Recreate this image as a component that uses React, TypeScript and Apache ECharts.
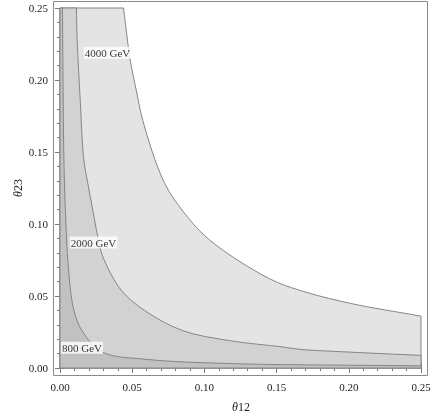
import React, { useEffect, useRef } from "react";
import * as echarts from "echarts";

// Contour curves: [theta12, theta23]
const contour4000: [number, number][] = [
  [0.044, 0.25], [0.0486, 0.214], [0.0528, 0.193], [0.0573, 0.172], [0.0712, 0.131],
  [0.0828, 0.112], [0.1035, 0.089], [0.1451, 0.062], [0.1659, 0.054], [0.2005, 0.045],
  [0.25, 0.036],
];
const contour2000: [number, number][] = [
  [0.0114, 0.25], [0.0119, 0.228], [0.014, 0.186], [0.0165, 0.1445], [0.0193, 0.128],
  [0.0227, 0.1097], [0.0262, 0.091], [0.0294, 0.078], [0.0424, 0.054], [0.0585, 0.04],
  [0.0848, 0.026], [0.1174, 0.019], [0.1543, 0.0146], [0.1659, 0.013], [0.2074, 0.0107],
  [0.25, 0.0088],
];
const contour800: [number, number][] = [
  [0.0017, 0.25], [0.0028, 0.14], [0.0043, 0.0956], [0.0054, 0.0749], [0.0096, 0.0401],
  [0.0158, 0.025], [0.0296, 0.011], [0.06, 0.006], [0.1174, 0.0031], [0.25, 0.0015],
];
const contourNames = ["4000 GeV", "2000 GeV", "800 GeV"];
const labelAnchors: [number, number][] = [
  [0.0329, 0.219], [0.0232, 0.0871], [0.0152, 0.0141],
];
const axisMin = 0;
const axisMax = 0.25;
const tickStep = 0.05;

const FONT = "'Liberation Serif', 'DejaVu Serif', serif";
const TICK_COLOR = "#7a7a7a";

// Region below a contour: straight frame edges + smooth centripetal Catmull-Rom contour, in pixel space
function regionPath(curve: [number, number][], coord: (p: number[]) => number[]) {
  const f = (n: number) => n.toFixed(2);
  const p = curve.map((c) => coord(c));
  const n = p.length;
  const pts = [
    [2 * p[0][0] - p[1][0], 2 * p[0][1] - p[1][1]],
    ...p,
    [2 * p[n - 1][0] - p[n - 2][0], 2 * p[n - 1][1] - p[n - 2][1]],
  ];
  const dist = (u: number[], v: number[]) => Math.pow(Math.hypot(u[0] - v[0], u[1] - v[1]), 0.5);
  const a0 = coord([axisMin, axisMin]);
  const b0 = coord([axisMin, axisMax]);
  const e0 = coord([axisMax, axisMin]);
  let d = `M${f(a0[0])},${f(a0[1])}L${f(b0[0])},${f(b0[1])}L${f(p[0][0])},${f(p[0][1])}`;
  for (let i = 1; i < pts.length - 2; i++) {
    const p0 = pts[i - 1], p1 = pts[i], p2 = pts[i + 1], p3 = pts[i + 2];
    const a = dist(p0, p1) || 1e-6, b = dist(p1, p2) || 1e-6, c = dist(p2, p3) || 1e-6;
    const cp1 = [0, 1].map(
      (k) => (a * a * p2[k] - b * b * p0[k] + (2 * a * a + 3 * a * b + b * b) * p1[k]) / (3 * a * (a + b))
    );
    const cp2 = [0, 1].map(
      (k) => (c * c * p1[k] - b * b * p3[k] + (2 * c * c + 3 * c * b + b * b) * p2[k]) / (3 * c * (c + b))
    );
    d += `C${f(cp1[0])},${f(cp1[1])},${f(cp2[0])},${f(cp2[1])},${f(p2[0])},${f(p2[1])}`;
  }
  d += `L${f(e0[0])},${f(e0[1])}Z`;
  return d;
}

export default function App() {
  const ref = useRef<HTMLDivElement>(null);
  useEffect(() => {
    if (!ref.current) return;
    const chart = echarts.init(ref.current, undefined, { renderer: "svg" });
    const tickCommon = {
      axisLine: { show: false },
      axisTick: { inside: true, length: 5, lineStyle: { color: TICK_COLOR } },
      minorTick: { show: true, splitNumber: 5, length: 3, lineStyle: { color: TICK_COLOR } },
      splitLine: { show: false },
      minorSplitLine: { show: false },
    };
    const labelStyle = {
      formatter: (v: number) => v.toFixed(2),
      margin: 5,
      color: "#222",
      fontFamily: FONT,
      fontSize: 11,
    };
    const fills = ["#e4e4e4", "#d2d2d2", "#c1c1c1"];
    const curves = [contour4000, contour2000, contour800];
    chart.setOption({
      animation: false,
      grid: { left: 60, right: 15, top: 8, bottom: 49 },
      xAxis: [
        { type: "value", min: axisMin, max: axisMax, interval: tickStep, position: "bottom", offset: 8, ...tickCommon, axisLabel: labelStyle },
        { type: "value", min: axisMin, max: axisMax, interval: tickStep, position: "top", offset: 7, ...tickCommon, axisLabel: { show: false } },
      ],
      yAxis: [
        { type: "value", min: axisMin, max: axisMax, interval: tickStep, position: "left", offset: 7, ...tickCommon, axisLabel: labelStyle },
        { type: "value", min: axisMin, max: axisMax, interval: tickStep, position: "right", offset: 7, ...tickCommon, axisLabel: { show: false } },
      ],
      series: [
        ...curves.map((c, i) => ({
          type: "custom",
          xAxisIndex: 0,
          yAxisIndex: 0,
          silent: true,
          z: 2 + i,
          clip: false,
          data: [c[0]],
          renderItem: (_params: any, api: any) => ({
            type: "path",
            shape: { pathData: regionPath(c, (pt) => api.coord(pt)) },
            style: { fill: fills[i], stroke: "#858585", lineWidth: 1 },
          }),
        })),
        {
          type: "scatter",
          xAxisIndex: 0,
          yAxisIndex: 0,
          z: 10,
          symbolSize: 1,
          itemStyle: { color: "transparent" },
          data: contourNames.map((n, i) => ({ name: n, value: labelAnchors[i] })),
          label: {
            show: true,
            position: "inside",
            formatter: "{b}",
            backgroundColor: "#ffffff",
            padding: [1, 1, 0, 1],
            color: "#000",
            fontFamily: FONT,
            fontSize: 11,
          },
        },
      ],
      graphic: [
        {
          type: "rect",
          shape: { x: 53.5, y: 1.5, width: 374, height: 374 },
          style: { fill: "none", stroke: "#8a8a8a", lineWidth: 1 },
          z: 100,
          silent: true,
        },
        {
          type: "text",
          x: 241,
          y: 407,
          style: {
            text: "{i|θ}12",
            rich: { i: { fontStyle: "italic", fontFamily: FONT, fontSize: 12, fill: "#222" } },
            fontFamily: FONT,
            fontSize: 12,
            fill: "#222",
            align: "center",
            verticalAlign: "middle",
          },
        },
        {
          type: "text",
          x: 18,
          y: 188,
          rotation: Math.PI / 2,
          style: {
            text: "{i|θ}23",
            rich: { i: { fontStyle: "italic", fontFamily: FONT, fontSize: 12, fill: "#222" } },
            fontFamily: FONT,
            fontSize: 12,
            fill: "#222",
            align: "center",
            verticalAlign: "middle",
          },
        },
      ],
    });
    return () => chart.dispose();
  }, []);
  return <div ref={ref} style={{ position: "fixed", left: 0, top: 0, width: 436, height: 417 }} />;
}
